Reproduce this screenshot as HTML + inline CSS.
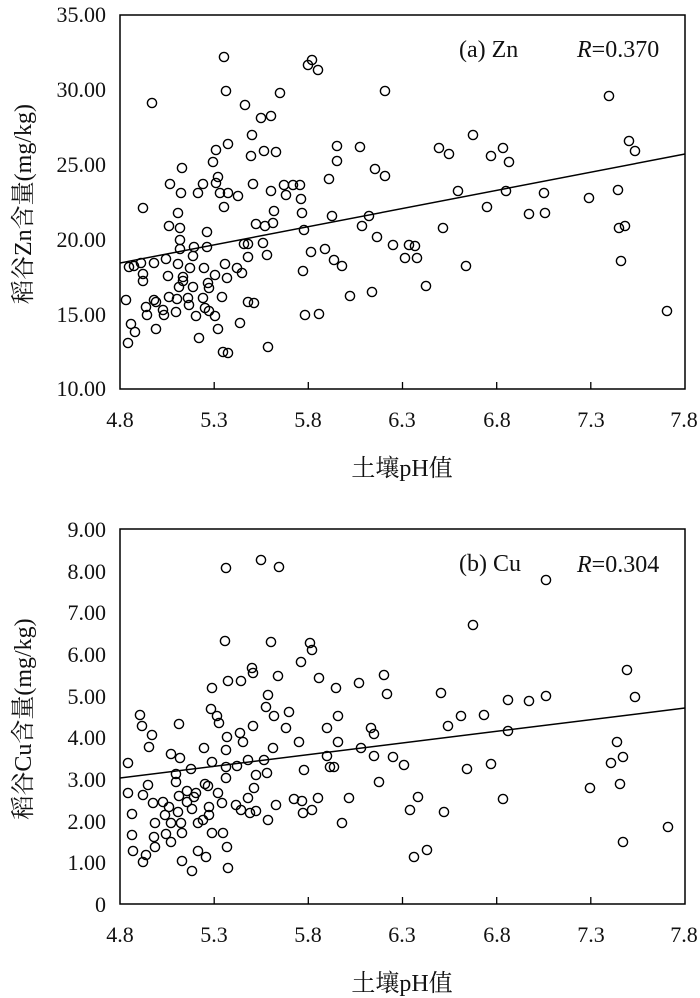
<!DOCTYPE html>
<html><head><meta charset="utf-8"><style>
html,body{margin:0;padding:0;background:#fff;}
svg{display:block;}
text{font-family:"Liberation Serif","Noto Serif CJK SC",serif;fill:#111;}
.t{font-size:22px;}
.c circle{fill:none;stroke:#000;stroke-width:1.4;}
</style></head><body>
<svg width="700" height="998" viewBox="0 0 700 998" xmlns="http://www.w3.org/2000/svg">
<!-- TOP CHART -->
<rect x="120" y="15" width="565" height="374" fill="none" stroke="#000" stroke-width="1.5"/>
<g stroke="#000" stroke-width="1.3">
<line x1="214.2" y1="389" x2="214.2" y2="382"/><line x1="308.3" y1="389" x2="308.3" y2="382"/><line x1="402.5" y1="389" x2="402.5" y2="382"/><line x1="496.7" y1="389" x2="496.7" y2="382"/><line x1="590.8" y1="389" x2="590.8" y2="382"/>
</g>
<g class="t" text-anchor="end">
<text x="106" y="22">35.00</text><text x="106" y="97">30.00</text><text x="106" y="172">25.00</text><text x="106" y="247">20.00</text><text x="106" y="322">15.00</text><text x="106" y="396">10.00</text>
</g>
<g class="t" text-anchor="middle">
<text x="120" y="427">4.8</text><text x="214" y="427">5.3</text><text x="308" y="427">5.8</text><text x="402" y="427">6.3</text><text x="497" y="427">6.8</text><text x="591" y="427">7.3</text><text x="684" y="427">7.8</text>
</g>
<text x="402" y="476" text-anchor="middle" style="font-size:24px">土壤pH值</text>
<text transform="translate(31,204) rotate(-90)" text-anchor="middle" style="font-size:24px">稻谷Zn含量(mg/kg)</text>
<text x="459" y="57" style="font-size:24px">(a) Zn</text>
<text x="577" y="57" style="font-size:24px"><tspan font-style="italic">R</tspan>=0.370</text>
<line x1="120" y1="263" x2="685" y2="154" stroke="#000" stroke-width="1.5"/>
<g class="c">
<circle cx="126" cy="300" r="4.6"/><circle cx="128" cy="343" r="4.6"/><circle cx="131" cy="324" r="4.6"/><circle cx="135" cy="332" r="4.6"/><circle cx="129" cy="267" r="4.6"/><circle cx="134" cy="266" r="4.6"/><circle cx="141" cy="263" r="4.6"/><circle cx="143" cy="274" r="4.6"/><circle cx="143" cy="281" r="4.6"/><circle cx="143" cy="208" r="4.6"/><circle cx="152" cy="103" r="4.6"/><circle cx="146" cy="307" r="4.6"/><circle cx="147" cy="315" r="4.6"/><circle cx="154" cy="300" r="4.6"/><circle cx="156" cy="302" r="4.6"/><circle cx="156" cy="329" r="4.6"/><circle cx="154" cy="263" r="4.6"/><circle cx="163" cy="310" r="4.6"/><circle cx="164" cy="315" r="4.6"/><circle cx="166" cy="259" r="4.6"/><circle cx="168" cy="276" r="4.6"/><circle cx="169" cy="226" r="4.6"/><circle cx="170" cy="184" r="4.6"/><circle cx="169" cy="297" r="4.6"/><circle cx="176" cy="312" r="4.6"/><circle cx="177" cy="299" r="4.6"/><circle cx="178" cy="264" r="4.6"/><circle cx="178" cy="213" r="4.6"/><circle cx="180" cy="228" r="4.6"/><circle cx="180" cy="240" r="4.6"/><circle cx="180" cy="249" r="4.6"/><circle cx="181" cy="193" r="4.6"/><circle cx="182" cy="168" r="4.6"/><circle cx="183" cy="277" r="4.6"/><circle cx="183" cy="281" r="4.6"/><circle cx="179" cy="287" r="4.6"/><circle cx="188" cy="298" r="4.6"/><circle cx="189" cy="305" r="4.6"/><circle cx="190" cy="268" r="4.6"/><circle cx="193" cy="287" r="4.6"/><circle cx="193" cy="256" r="4.6"/><circle cx="194" cy="247" r="4.6"/><circle cx="196" cy="316" r="4.6"/><circle cx="198" cy="193" r="4.6"/><circle cx="199" cy="338" r="4.6"/><circle cx="203" cy="298" r="4.6"/><circle cx="203" cy="184" r="4.6"/><circle cx="204" cy="268" r="4.6"/><circle cx="205" cy="308" r="4.6"/><circle cx="207" cy="232" r="4.6"/><circle cx="207" cy="247" r="4.6"/><circle cx="208" cy="283" r="4.6"/><circle cx="209" cy="311" r="4.6"/><circle cx="209" cy="288" r="4.6"/><circle cx="213" cy="162" r="4.6"/><circle cx="215" cy="275" r="4.6"/><circle cx="215" cy="316" r="4.6"/><circle cx="216" cy="183" r="4.6"/><circle cx="216" cy="150" r="4.6"/><circle cx="218" cy="177" r="4.6"/><circle cx="218" cy="329" r="4.6"/><circle cx="220" cy="193" r="4.6"/><circle cx="222" cy="297" r="4.6"/><circle cx="223" cy="352" r="4.6"/><circle cx="224" cy="207" r="4.6"/><circle cx="225" cy="264" r="4.6"/><circle cx="227" cy="278" r="4.6"/><circle cx="228" cy="193" r="4.6"/><circle cx="228" cy="353" r="4.6"/><circle cx="224" cy="57" r="4.6"/><circle cx="226" cy="91" r="4.6"/><circle cx="228" cy="144" r="4.6"/><circle cx="238" cy="196" r="4.6"/><circle cx="237" cy="268" r="4.6"/><circle cx="242" cy="273" r="4.6"/><circle cx="245" cy="105" r="4.6"/><circle cx="244" cy="244" r="4.6"/><circle cx="248" cy="244" r="4.6"/><circle cx="248" cy="302" r="4.6"/><circle cx="248" cy="257" r="4.6"/><circle cx="252" cy="135" r="4.6"/><circle cx="251" cy="156" r="4.6"/><circle cx="253" cy="184" r="4.6"/><circle cx="254" cy="303" r="4.6"/><circle cx="256" cy="224" r="4.6"/><circle cx="240" cy="323" r="4.6"/><circle cx="261" cy="118" r="4.6"/><circle cx="264" cy="151" r="4.6"/><circle cx="263" cy="243" r="4.6"/><circle cx="265" cy="226" r="4.6"/><circle cx="267" cy="255" r="4.6"/><circle cx="268" cy="347" r="4.6"/><circle cx="271" cy="116" r="4.6"/><circle cx="271" cy="191" r="4.6"/><circle cx="273" cy="223" r="4.6"/><circle cx="274" cy="211" r="4.6"/><circle cx="276" cy="152" r="4.6"/><circle cx="280" cy="93" r="4.6"/><circle cx="284" cy="185" r="4.6"/><circle cx="286" cy="195" r="4.6"/><circle cx="293" cy="185" r="4.6"/><circle cx="300" cy="185" r="4.6"/><circle cx="301" cy="199" r="4.6"/><circle cx="302" cy="213" r="4.6"/><circle cx="304" cy="230" r="4.6"/><circle cx="303" cy="271" r="4.6"/><circle cx="305" cy="315" r="4.6"/><circle cx="308" cy="65" r="4.6"/><circle cx="312" cy="60" r="4.6"/><circle cx="311" cy="252" r="4.6"/><circle cx="318" cy="70" r="4.6"/><circle cx="319" cy="314" r="4.6"/><circle cx="325" cy="249" r="4.6"/><circle cx="329" cy="179" r="4.6"/><circle cx="332" cy="216" r="4.6"/><circle cx="334" cy="260" r="4.6"/><circle cx="337" cy="161" r="4.6"/><circle cx="337" cy="146" r="4.6"/><circle cx="342" cy="266" r="4.6"/><circle cx="350" cy="296" r="4.6"/>
<circle cx="360" cy="147" r="4.6"/><circle cx="375" cy="169" r="4.6"/><circle cx="385" cy="176" r="4.6"/><circle cx="385" cy="91" r="4.6"/><circle cx="369" cy="216" r="4.6"/><circle cx="362" cy="226" r="4.6"/><circle cx="377" cy="237" r="4.6"/><circle cx="372" cy="292" r="4.6"/><circle cx="393" cy="245" r="4.6"/><circle cx="409" cy="245" r="4.6"/><circle cx="415" cy="246" r="4.6"/><circle cx="405" cy="258" r="4.6"/><circle cx="417" cy="258" r="4.6"/><circle cx="426" cy="286" r="4.6"/><circle cx="439" cy="148" r="4.6"/><circle cx="449" cy="154" r="4.6"/><circle cx="458" cy="191" r="4.6"/><circle cx="443" cy="228" r="4.6"/><circle cx="466" cy="266" r="4.6"/><circle cx="473" cy="135" r="4.6"/><circle cx="487" cy="207" r="4.6"/><circle cx="491" cy="156" r="4.6"/><circle cx="503" cy="148" r="4.6"/><circle cx="509" cy="162" r="4.6"/><circle cx="506" cy="191" r="4.6"/><circle cx="529" cy="214" r="4.6"/><circle cx="544" cy="193" r="4.6"/><circle cx="545" cy="213" r="4.6"/><circle cx="589" cy="198" r="4.6"/><circle cx="609" cy="96" r="4.6"/><circle cx="629" cy="141" r="4.6"/><circle cx="635" cy="151" r="4.6"/><circle cx="618" cy="190" r="4.6"/><circle cx="619" cy="228" r="4.6"/><circle cx="625" cy="226" r="4.6"/><circle cx="621" cy="261" r="4.6"/><circle cx="667" cy="311" r="4.6"/>
</g>

<!-- BOTTOM CHART -->
<rect x="120" y="529" width="565" height="375" fill="none" stroke="#000" stroke-width="1.5"/>
<g stroke="#000" stroke-width="1.3">
<line x1="214.2" y1="904" x2="214.2" y2="897"/><line x1="308.3" y1="904" x2="308.3" y2="897"/><line x1="402.5" y1="904" x2="402.5" y2="897"/><line x1="496.7" y1="904" x2="496.7" y2="897"/><line x1="590.8" y1="904" x2="590.8" y2="897"/>
</g>
<g class="t" text-anchor="end">
<text x="106" y="537">9.00</text><text x="106" y="579">8.00</text><text x="106" y="620">7.00</text><text x="106" y="662">6.00</text><text x="106" y="704">5.00</text><text x="106" y="745">4.00</text><text x="106" y="787">3.00</text><text x="106" y="829">2.00</text><text x="106" y="870">1.00</text><text x="106" y="912">0</text>
</g>
<g class="t" text-anchor="middle">
<text x="120" y="942">4.8</text><text x="214" y="942">5.3</text><text x="308" y="942">5.8</text><text x="402" y="942">6.3</text><text x="497" y="942">6.8</text><text x="591" y="942">7.3</text><text x="684" y="942">7.8</text>
</g>
<text x="402" y="991" text-anchor="middle" style="font-size:24px">土壤pH值</text>
<text transform="translate(31,719) rotate(-90)" text-anchor="middle" style="font-size:24px">稻谷Cu含量(mg/kg)</text>
<text x="459" y="571" style="font-size:24px">(b) Cu</text>
<text x="577" y="572" style="font-size:24px"><tspan font-style="italic">R</tspan>=0.304</text>
<line x1="120" y1="778" x2="685" y2="708" stroke="#000" stroke-width="1.5"/>
<g class="c">
<circle cx="128" cy="763" r="4.6"/><circle cx="128" cy="793" r="4.6"/><circle cx="132" cy="814" r="4.6"/><circle cx="132" cy="835" r="4.6"/><circle cx="133" cy="851" r="4.6"/><circle cx="140" cy="715" r="4.6"/><circle cx="142" cy="726" r="4.6"/><circle cx="143" cy="795" r="4.6"/><circle cx="143" cy="862" r="4.6"/><circle cx="146" cy="855" r="4.6"/><circle cx="148" cy="785" r="4.6"/><circle cx="149" cy="747" r="4.6"/><circle cx="152" cy="735" r="4.6"/><circle cx="153" cy="803" r="4.6"/><circle cx="154" cy="837" r="4.6"/><circle cx="155" cy="847" r="4.6"/><circle cx="155" cy="823" r="4.6"/><circle cx="163" cy="802" r="4.6"/><circle cx="165" cy="815" r="4.6"/><circle cx="166" cy="834" r="4.6"/><circle cx="169" cy="807" r="4.6"/><circle cx="171" cy="754" r="4.6"/><circle cx="171" cy="823" r="4.6"/><circle cx="171" cy="842" r="4.6"/><circle cx="176" cy="774" r="4.6"/><circle cx="176" cy="782" r="4.6"/><circle cx="178" cy="812" r="4.6"/><circle cx="179" cy="796" r="4.6"/><circle cx="179" cy="724" r="4.6"/><circle cx="180" cy="758" r="4.6"/><circle cx="181" cy="823" r="4.6"/><circle cx="182" cy="833" r="4.6"/><circle cx="182" cy="861" r="4.6"/><circle cx="187" cy="802" r="4.6"/><circle cx="187" cy="791" r="4.6"/><circle cx="191" cy="769" r="4.6"/><circle cx="192" cy="809" r="4.6"/><circle cx="192" cy="871" r="4.6"/><circle cx="194" cy="797" r="4.6"/><circle cx="196" cy="793" r="4.6"/><circle cx="198" cy="823" r="4.6"/><circle cx="198" cy="851" r="4.6"/><circle cx="203" cy="820" r="4.6"/><circle cx="204" cy="748" r="4.6"/><circle cx="205" cy="784" r="4.6"/><circle cx="206" cy="857" r="4.6"/><circle cx="208" cy="786" r="4.6"/><circle cx="209" cy="807" r="4.6"/><circle cx="209" cy="815" r="4.6"/><circle cx="212" cy="688" r="4.6"/><circle cx="212" cy="762" r="4.6"/><circle cx="212" cy="833" r="4.6"/><circle cx="211" cy="709" r="4.6"/><circle cx="217" cy="716" r="4.6"/><circle cx="218" cy="793" r="4.6"/><circle cx="219" cy="723" r="4.6"/><circle cx="222" cy="803" r="4.6"/><circle cx="223" cy="833" r="4.6"/><circle cx="225" cy="641" r="4.6"/><circle cx="226" cy="568" r="4.6"/><circle cx="226" cy="750" r="4.6"/><circle cx="226" cy="767" r="4.6"/><circle cx="226" cy="778" r="4.6"/><circle cx="227" cy="847" r="4.6"/><circle cx="228" cy="681" r="4.6"/><circle cx="227" cy="737" r="4.6"/><circle cx="228" cy="868" r="4.6"/><circle cx="236" cy="805" r="4.6"/><circle cx="237" cy="766" r="4.6"/><circle cx="240" cy="733" r="4.6"/><circle cx="241" cy="681" r="4.6"/><circle cx="243" cy="742" r="4.6"/><circle cx="241" cy="810" r="4.6"/><circle cx="248" cy="798" r="4.6"/><circle cx="248" cy="760" r="4.6"/><circle cx="250" cy="813" r="4.6"/><circle cx="252" cy="668" r="4.6"/><circle cx="253" cy="726" r="4.6"/><circle cx="253" cy="673" r="4.6"/><circle cx="254" cy="788" r="4.6"/><circle cx="256" cy="775" r="4.6"/><circle cx="256" cy="811" r="4.6"/><circle cx="261" cy="560" r="4.6"/><circle cx="264" cy="760" r="4.6"/><circle cx="266" cy="707" r="4.6"/><circle cx="267" cy="773" r="4.6"/><circle cx="268" cy="820" r="4.6"/><circle cx="268" cy="695" r="4.6"/><circle cx="271" cy="642" r="4.6"/><circle cx="273" cy="748" r="4.6"/><circle cx="274" cy="716" r="4.6"/><circle cx="276" cy="805" r="4.6"/><circle cx="278" cy="676" r="4.6"/><circle cx="279" cy="567" r="4.6"/><circle cx="286" cy="728" r="4.6"/><circle cx="289" cy="712" r="4.6"/><circle cx="294" cy="799" r="4.6"/><circle cx="299" cy="742" r="4.6"/><circle cx="301" cy="662" r="4.6"/><circle cx="302" cy="801" r="4.6"/><circle cx="303" cy="813" r="4.6"/><circle cx="304" cy="770" r="4.6"/><circle cx="310" cy="643" r="4.6"/><circle cx="312" cy="650" r="4.6"/><circle cx="312" cy="810" r="4.6"/><circle cx="318" cy="798" r="4.6"/><circle cx="319" cy="678" r="4.6"/><circle cx="327" cy="728" r="4.6"/><circle cx="327" cy="756" r="4.6"/><circle cx="330" cy="767" r="4.6"/><circle cx="334" cy="767" r="4.6"/><circle cx="336" cy="688" r="4.6"/><circle cx="338" cy="742" r="4.6"/><circle cx="338" cy="716" r="4.6"/><circle cx="342" cy="823" r="4.6"/><circle cx="349" cy="798" r="4.6"/>
<circle cx="359" cy="683" r="4.6"/><circle cx="361" cy="748" r="4.6"/><circle cx="371" cy="728" r="4.6"/><circle cx="374" cy="734" r="4.6"/><circle cx="374" cy="756" r="4.6"/><circle cx="379" cy="782" r="4.6"/><circle cx="384" cy="675" r="4.6"/><circle cx="387" cy="694" r="4.6"/><circle cx="393" cy="757" r="4.6"/><circle cx="404" cy="765" r="4.6"/><circle cx="410" cy="810" r="4.6"/><circle cx="418" cy="797" r="4.6"/><circle cx="414" cy="857" r="4.6"/><circle cx="427" cy="850" r="4.6"/><circle cx="441" cy="693" r="4.6"/><circle cx="444" cy="812" r="4.6"/><circle cx="448" cy="726" r="4.6"/><circle cx="461" cy="716" r="4.6"/><circle cx="467" cy="769" r="4.6"/><circle cx="473" cy="625" r="4.6"/><circle cx="484" cy="715" r="4.6"/><circle cx="491" cy="764" r="4.6"/><circle cx="503" cy="799" r="4.6"/><circle cx="508" cy="700" r="4.6"/><circle cx="508" cy="731" r="4.6"/><circle cx="529" cy="701" r="4.6"/><circle cx="546" cy="580" r="4.6"/><circle cx="546" cy="696" r="4.6"/><circle cx="590" cy="788" r="4.6"/><circle cx="611" cy="763" r="4.6"/><circle cx="617" cy="742" r="4.6"/><circle cx="623" cy="757" r="4.6"/><circle cx="620" cy="784" r="4.6"/><circle cx="623" cy="842" r="4.6"/><circle cx="627" cy="670" r="4.6"/><circle cx="635" cy="697" r="4.6"/><circle cx="668" cy="827" r="4.6"/>
</g>
</svg>
</body></html>
